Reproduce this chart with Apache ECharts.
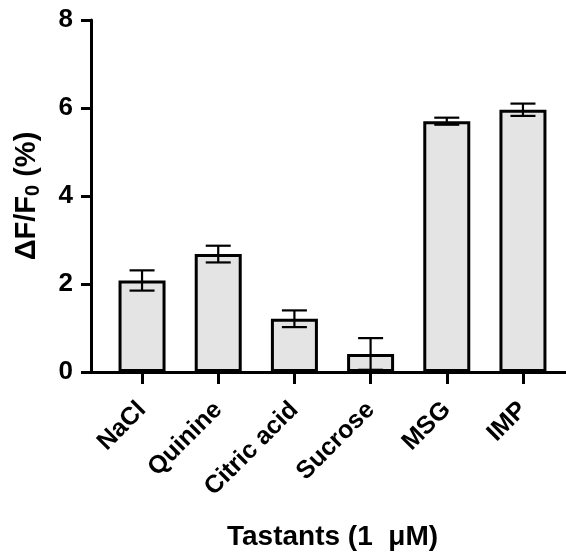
<!DOCTYPE html>
<html>
<head>
<meta charset="utf-8">
<script src="https://cdn.jsdelivr.net/npm/echarts@6/dist/echarts.min.js"></script>
<style>html,body{margin:0;padding:0;background:#fff}#c{width:566px;height:558px}</style>
</head>
<body>
<div id="c"></div>
<script>
var categories = ['NaCl', 'Quinine', 'Citric acid', 'Sucrose', 'MSG', 'IMP'];
var means = [2.08, 2.68, 1.21, 0.41, 5.70, 5.96];
var errors = [0.23, 0.19, 0.19, 0.36, 0.08, 0.14];
var yTicks = [0, 2, 4, 6, 8];

var FONT = '"Liberation Sans", Arial, sans-serif';
var idx = categories.map(function (_, i) { return i; });
var barData = means.map(function (v, i) { return [i, v]; });
var errData = means.map(function (v, i) { return [i, v - errors[i], v + errors[i]]; });

var chart = echarts.init(document.getElementById('c'));
chart.setOption({
  animation: false,
  backgroundColor: '#fff',
  grid: { left: 91, right: 0, top: 20, bottom: 186, containLabel: false, outerBoundsMode: 'none' },
  xAxis: {
    type: 'value',
    min: -0.67,
    max: 5.565,
    splitLine: { show: false },
    axisLine: { show: true, onZero: false, lineStyle: { color: '#000', width: 3 } },
    axisTick: { show: true, customValues: idx, length: 12, lineStyle: { color: '#000', width: 3 } },
    axisLabel: {
      customValues: idx,
      rotate: 45,
      margin: 34,
      color: '#000',
      fontFamily: FONT,
      fontWeight: 'bold',
      fontSize: 25,
      formatter: function (v) { return categories[Math.round(v)]; }
    },
    name: 'Tastants (1  \u03bcM)',
    nameLocation: 'middle',
    nameGap: 151,
    nameTextStyle: { color: '#000', fontFamily: FONT, fontWeight: 'bold', fontSize: 28, padding: [0, 0, 0, 8] }
  },
  yAxis: {
    type: 'value',
    min: yTicks[0],
    max: yTicks[yTicks.length - 1],
    interval: 2,
    splitLine: { show: false },
    axisLine: { show: true, onZero: false, lineStyle: { color: '#000', width: 3 } },
    axisTick: { show: true, length: 10, lineStyle: { color: '#000', width: 3 } },
    axisLabel: { margin: 18, color: '#000', fontFamily: FONT, fontWeight: 'bold', fontSize: 26 },
    name: '{a|\u0394F/F}{s|0}{a| (%)}',
    nameLocation: 'middle',
    nameRotate: 90,
    nameGap: 48,
    nameTextStyle: {
      rich: {
        a: { fontFamily: FONT, fontSize: 29, color: '#000', fontWeight: 'bold' },
        s: { fontFamily: FONT, fontSize: 20, color: '#000', fontWeight: 'bold', verticalAlign: 'bottom', padding: [12, 0, 0, 0] }
      }
    }
  },
  series: [
    {
      type: 'bar',
      data: barData,
      barWidth: 47,
      itemStyle: { color: '#e4e4e4', borderColor: '#000', borderWidth: 3 },
      z: 2
    },
    {
      type: 'custom',
      data: errData,
      z: 5,
      renderItem: function (params, api) {
        var x = api.value(0);
        var lo = api.coord([x, api.value(1)]);
        var hi = api.coord([x, api.value(2)]);
        var hw = 12.5;
        var st = { stroke: '#000', lineWidth: 2.2 };
        return {
          type: 'group',
          children: [
            { type: 'line', shape: { x1: lo[0], y1: lo[1], x2: hi[0], y2: hi[1] }, style: st },
            { type: 'line', shape: { x1: lo[0] - hw, y1: lo[1], x2: lo[0] + hw, y2: lo[1] }, style: st },
            { type: 'line', shape: { x1: hi[0] - hw, y1: hi[1], x2: hi[0] + hw, y2: hi[1] }, style: st }
          ]
        };
      }
    }
  ]
});
</script>
</body>
</html>
